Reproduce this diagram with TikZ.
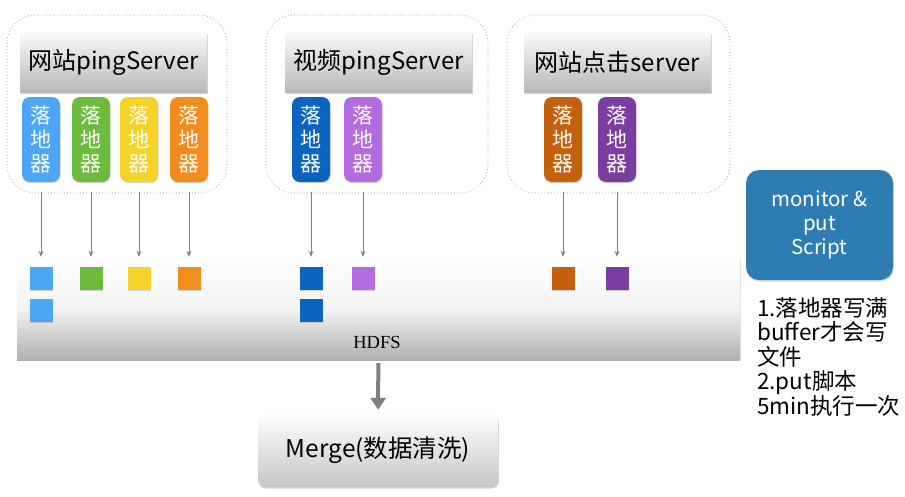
\documentclass[tikz,border=0pt]{standalone}
\usepackage{fontspec}
\setmainfont{Noto Sans CJK SC}
\newfontfamily\hdfsfont{Liberation Serif}
\usetikzlibrary{arrows.meta,shadows}

\definecolor{skyA}{HTML}{4BA6F5}
\definecolor{grassA}{HTML}{6CBB3C}
\definecolor{sunA}{HTML}{F5D22A}
\definecolor{orangeA}{HTML}{F28C1C}
\definecolor{navyA}{HTML}{0A64C0}
\definecolor{lilacA}{HTML}{B36BE0}
\definecolor{rustA}{HTML}{C4600E}
\definecolor{plumA}{HTML}{7A3DA0}
\definecolor{scriptblue}{HTML}{2E7DB2}

\begin{document}
\begin{tikzpicture}[x=1pt,y=-1pt,
    group/.style={draw=gray!70, line width=1.1pt, line cap=round,
        dash pattern=on 0pt off 3.2pt, rounded corners=28pt},
    server/.style={minimum width=187pt, minimum height=60pt, inner sep=0pt,
        top color=white!96!gray, bottom color=gray!55,
        drop shadow={opacity=0.35, shadow xshift=0.8pt, shadow yshift=-1.5pt},
        font=\fontsize{24}{28}\selectfont},
    luodi/.style={minimum width=38pt, minimum height=85pt, inner sep=0pt,
        rounded corners=8pt, text=white, align=center,
        drop shadow={opacity=0.3, shadow xshift=0.6pt, shadow yshift=-1.2pt},
        font=\fontsize{21}{24}\selectfont},
    block/.style={minimum size=23pt, inner sep=0pt,
        drop shadow={opacity=0.3, shadow xshift=0.5pt, shadow yshift=-1pt}},
    link/.style={draw=gray, line width=1pt, -{Stealth[length=6pt,width=5pt]},
        shorten <=10pt, shorten >=10pt},
]
\useasboundingbox (0,0) rectangle (905,496);

% three server groups
\draw[group] (7,15) rectangle (227,193);
\draw[group] (266,15) rectangle (488,193);
\draw[group] (507,15) rectangle (730,193);

\node[server] (webping) at (113.5,62) {网站pingServer};
\node[server] (videoping) at (378.5,62) {视频pingServer};
\node[server] (webclick) at (617.5,62) {网站点击server};

% HDFS band
\node[minimum width=723pt, minimum height=102pt, inner sep=0pt,
    top color=white, bottom color=gray!62, middle color=white!90!gray,
    drop shadow={opacity=0.25, shadow xshift=0.6pt, shadow yshift=-1.2pt}]
    (hdfs) at (378.5,309) {};
\node[font=\hdfsfont\fontsize{18.5}{22}\selectfont] (hdfslabel) at (377,342) {HDFS};

% 落地器 and the files they write
\foreach \n/\x/\c in {wa/41/skyA, wb/91/grassA, wc/139/sunA, wd/189/orangeA,
                      va/311/navyA, vb/363/lilacA, ca/563/rustA, cb/617/plumA}{
    \node[luodi, fill=\c] (\n) at (\x,139.5) {落\\地\\器};
    \node[block, fill=\c] (f\n) at (\x,278.5) {};
    \draw[link] (\n) -- (f\n);
}
\node[block, fill=skyA] (fwa2) at (41,310.5) {};
\node[block, fill=navyA] (fva2) at (311,310.5) {};

% merge
\node[minimum width=240pt, minimum height=74pt, inner sep=0pt, rounded corners=7pt,
    top color=white, bottom color=gray!45,
    drop shadow={opacity=0.35, shadow xshift=0.8pt, shadow yshift=-1.5pt},
    font=\fontsize{24.5}{28}\selectfont]
    (merge) at (378,450) {Merge(数据清洗)};
\draw[draw=gray, line width=4pt, -{Triangle[length=12pt,width=15pt]},
    shorten <=3pt, shorten >=3pt] (hdfs) -- (merge);

% script box and notes
\node[minimum width=147pt, minimum height=110pt, inner sep=0pt, rounded corners=13pt,
    fill=scriptblue, text=white, align=center,
    drop shadow={opacity=0.3, shadow xshift=0.8pt, shadow yshift=-1.5pt},
    font=\fontsize{20.5}{24}\selectfont]
    (script) at (819.5,225) {monitor \&\\put\\Script};
\node[anchor=north west, align=left, inner sep=0pt,
    font=\fontsize{22.5}{24.5}\selectfont]
    (notes) at (757,297) {1.落地器写满\\buffer才会写\\文件\\2.put脚本\\5min执行一次};
\end{tikzpicture}
\end{document}
